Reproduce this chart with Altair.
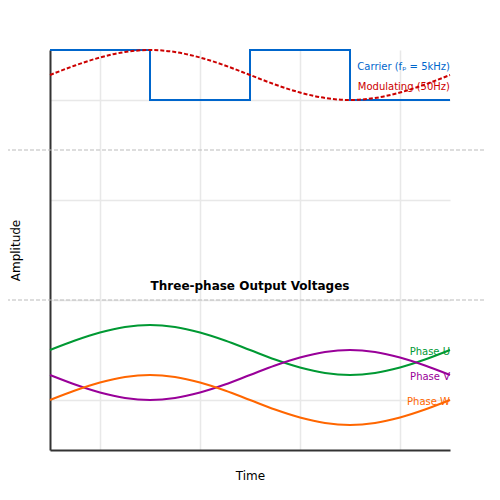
import altair as alt
import pandas as pd

# sample positions along the time axis (one 50 Hz period spans 0..4)
t = [0, 0.25, 0.5, 0.75, 1.0, 1.25, 1.5, 1.75, 2.0, 2.25, 2.5, 2.75, 3.0, 3.25, 3.5, 3.75, 4.0]

modulating = [6.5, 6.69, 6.85, 6.96, 7.0, 6.96, 6.85, 6.69, 6.5, 6.31, 6.15, 6.04, 6.0, 6.04, 6.15, 6.31, 6.5]
phase_u = [1.0, 1.19, 1.35, 1.46, 1.5, 1.46, 1.35, 1.19, 1.0, 0.81, 0.65, 0.54, 0.5, 0.54, 0.65, 0.81, 1.0]
phase_v = [0.5, 0.31, 0.15, 0.04, 0.0, 0.04, 0.15, 0.31, 0.5, 0.69, 0.85, 0.96, 1.0, 0.96, 0.85, 0.69, 0.5]
phase_w = [0.0, 0.19, 0.35, 0.46, 0.5, 0.46, 0.35, 0.19, 0.0, -0.19, -0.35, -0.46, -0.5, -0.46, -0.35, -0.19, 0.0]

carrier_t = [0, 1, 2, 3, 4]
carrier_v = [7, 6, 7, 6, 6]

phase_names = ["Phase U", "Phase V", "Phase W"]
phase_colors = ["#009933", "#990099", "#ff6600"]
phase_label_y = [1.0, 0.5, 0.0]

separators = [5, 2]

signal_labels = ["Carrier (fₚ = 5kHz)", "Modulating (50Hz)"]
signal_label_y = [6.68, 6.29]
signal_colors = ["#0066cc", "#cc0000"]

section_title = "Three-phase Output Voltages"

x_grid = [0.5, 1.5, 2.5, 3.5]
y_grid = [0, 2, 4, 6]

# --- tables ---
phase_df = pd.concat([
    pd.DataFrame({"t": t, "v": vals, "phase": name})
    for name, vals in zip(phase_names, [phase_u, phase_v, phase_w])
])
mod_df = pd.DataFrame({"t": t, "v": modulating})
car_df = pd.DataFrame({"t": carrier_t, "v": carrier_v})
sep_df = pd.DataFrame({"v": separators})
phase_lab_df = pd.DataFrame({"label": phase_names, "v": phase_label_y, "t": [4] * 3})
sig_lab_df = pd.DataFrame({"label": signal_labels, "v": signal_label_y, "t": [4] * 2, "c": signal_colors})
title_df = pd.DataFrame({"label": [section_title], "t": [2], "v": [2]})

x_enc = alt.X("t:Q", scale=alt.Scale(domain=[0, 4], nice=False, zero=False),
              axis=alt.Axis(title="Time", values=x_grid, labels=False, ticks=False,
                            grid=True, gridColor="#e8e8e8", gridWidth=1.5,
                            domainColor="#333333", domainWidth=2,
                            titleFont="DejaVu Sans", titleFontSize=12,
                            titleFontWeight="normal", titleColor="#000000",
                            titlePadding=20))
y_enc = alt.Y("v:Q", scale=alt.Scale(domain=[-1, 7], nice=False, zero=False),
              axis=alt.Axis(title="Amplitude", values=y_grid, labels=False, ticks=False,
                            grid=True, gridColor="#e8e8e8", gridWidth=1.5,
                            domainColor="#333333", domainWidth=2,
                            titleFont="DejaVu Sans", titleFontSize=12,
                            titleFontWeight="normal", titleColor="#000000",
                            titlePadding=28))

sep = alt.Chart(sep_df).mark_rule(color="#bbbbbb", strokeDash=[4, 2], strokeWidth=1.2).encode(
    x=alt.value(-50), x2=alt.value(450), y=alt.Y("v:Q")
)

carrier = alt.Chart(car_df).mark_line(color="#0066cc", strokeWidth=2, interpolate="step-after").encode(
    x=x_enc, y=y_enc
)
mod = alt.Chart(mod_df).mark_line(color="#cc0000", strokeWidth=2, strokeDash=[4, 2],
                                  interpolate="monotone").encode(x="t:Q", y="v:Q")

phases = alt.Chart(phase_df).mark_line(strokeWidth=2, interpolate="monotone").encode(
    x="t:Q", y="v:Q",
    color=alt.Color("phase:N", scale=alt.Scale(domain=phase_names, range=phase_colors), legend=None),
)

phase_labels = alt.Chart(phase_lab_df).mark_text(align="right", baseline="middle", fontSize=10, dy=1.5,
                                                 font="DejaVu Sans").encode(
    x="t:Q", y="v:Q", text="label:N",
    color=alt.Color("label:N", scale=alt.Scale(domain=phase_names, range=phase_colors), legend=None),
)

sig_labels = alt.Chart(sig_lab_df).mark_text(align="right", baseline="middle", fontSize=10, dy=1,
                                             font="DejaVu Sans").encode(
    x="t:Q", y="v:Q", text="label:N",
    color=alt.Color("c:N", scale=None),
)

title = alt.Chart(title_df).mark_text(align="center", baseline="bottom", dy=-7, fontSize=12,
                                      fontWeight="bold", font="DejaVu Sans", color="#000000").encode(
    x="t:Q", y="v:Q", text="label:N"
)

chart = alt.layer(carrier, sep, mod, phases, phase_labels, sig_labels, title).resolve_scale(
    color="independent"
).properties(
    width=400, height=400,
    padding={"left": 42, "top": 42, "right": 34, "bottom": 40},
    autosize=alt.AutoSizeParams(type="none"),
    background="#ffffff",
).configure_view(stroke=None)

chart.save("out.html", embed_options={"renderer": "svg", "actions": False})
